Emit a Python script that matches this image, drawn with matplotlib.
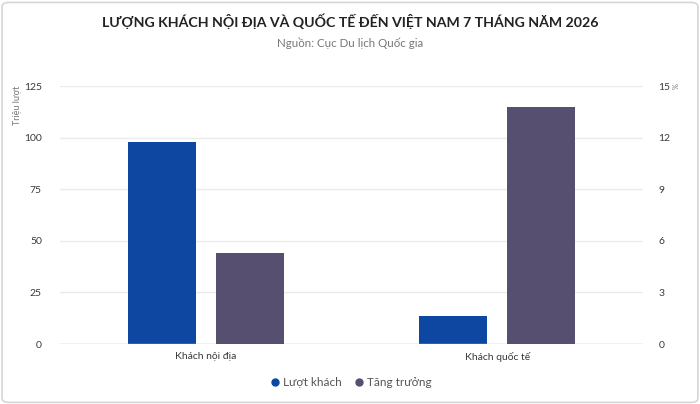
import matplotlib.pyplot as plt
from matplotlib.patches import FancyBboxPatch
import numpy as np

plt.rcParams['font.family'] = ['Lato', 'DejaVu Sans']

# dữ liệu
categories = ['Khách nội địa', 'Khách quốc tế']
luot_khach = [97.7, 13.7]      # triệu lượt
tang_truong = [5.27, 13.78]    # %
left_ticks = [0, 25, 50, 75, 100, 125]
right_ticks = [0, 3, 6, 9, 12, 15]

blue = '#0d47a1'
purple = '#564f70'
text_col = '#3a3a3a'

fig = plt.figure(figsize=(7, 4.04), dpi=100)
fig.patch.set_facecolor('white')

# khung viền bo góc
border = FancyBboxPatch((0.003, 0.004), 0.994, 0.99, boxstyle='round,pad=0,rounding_size=0.01',
                        transform=fig.transFigure, facecolor='none', edgecolor='#d6d6d6', lw=1.2,
                        zorder=-1)
fig.patches.append(border)

ax = fig.add_axes([0.0857, 0.1485, 0.833, 0.6386])
ax2 = ax.twinx()

x = np.arange(len(categories))
w = 0.234
off = 0.151
ax.bar(x - off, luot_khach, w, color=blue, zorder=3)
ax2.bar(x + off, tang_truong, w, color=purple, zorder=3)

ax.set_xlim(-0.5, 1.5)
ax.set_ylim(0, 125)
ax2.set_ylim(0, 15)
ax.set_yticks(left_ticks)
ax2.set_yticks(right_ticks)
ax.set_xticks(x)
ax.set_xticklabels(categories, fontsize=7.5, color=text_col)

ax.grid(axis='y', color='#ebebeb', lw=1, zorder=0)
ax.axhline(0, color='#cccccc', lw=1, zorder=4)

for a in (ax, ax2):
    for s in a.spines.values():
        s.set_visible(False)
    a.tick_params(length=0, labelsize=7.5, labelcolor=text_col)
ax.tick_params(axis='y', pad=13)
ax2.tick_params(axis='y', pad=11)
ax.tick_params(axis='x', pad=6)

ax.set_ylabel('Triệu lượt', fontsize=6.5, color='#777777')
ax.yaxis.set_label_coords(-0.066, 0.925)
fig.text(0.962, 0.787, '%', fontsize=5.5, color='#777777', rotation=-90, ha='center', va='center')

fig.text(0.5, 0.948, 'LƯỢNG KHÁCH NỘI ĐỊA VÀ QUỐC TẾ ĐẾN VIỆT NAM 7 THÁNG NĂM 2026',
         ha='center', va='center', fontsize=10.2, fontweight='bold', color='#222222')
fig.text(0.5, 0.893, 'Nguồn: Cục Du lịch Quốc gia', ha='center', va='center',
         fontsize=8.3, color='#777777')

# chú thích
h1 = plt.Line2D([], [], marker='o', ls='', color=blue, markersize=5)
h2 = plt.Line2D([], [], marker='o', ls='', color=purple, markersize=5)
fig.legend([h1, h2], ['Lượt khách', 'Tăng trưởng'], loc='center', bbox_to_anchor=(0.5, 0.052),
           ncol=2, frameon=False, fontsize=8.5, handletextpad=0.05, columnspacing=0.9,
           handlelength=1.2, labelcolor='#555555')

fig.savefig('out.png', dpi=100, facecolor='white')
